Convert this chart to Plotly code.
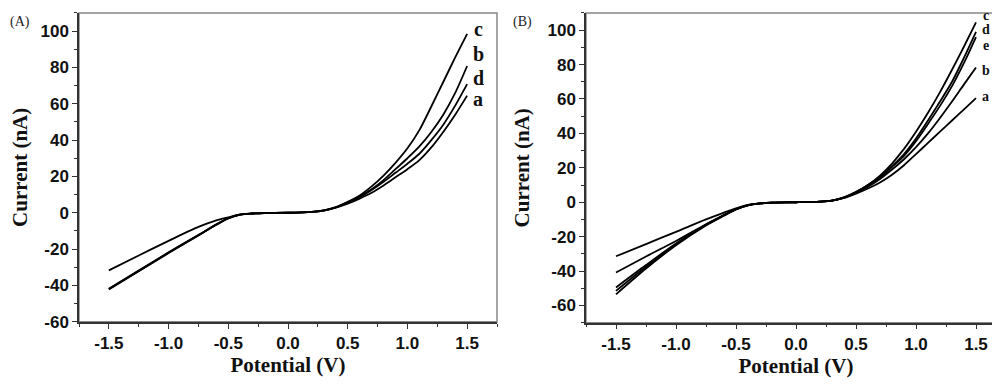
import plotly.graph_objects as go

# ---------------- data ----------------
potential = [-1.5, -1.25, -1.0, -0.75, -0.6, -0.5, -0.4, -0.3, -0.2, 0.0, 0.2, 0.3,
             0.4, 0.5, 0.6, 0.7, 0.8, 0.9, 1.0, 1.1, 1.2, 1.3, 1.4, 1.5]

# Panel (A)
A_a = [-31.7, -23.5, -15.5, -7.8, -4.2, -2.5, -0.9, -0.4, -0.15, 0.0, 0.5, 1.2,
       2.8, 5.0, 7.8, 11.0, 15.0, 19.5, 24.0, 29.0, 36.0, 44.5, 54.0, 64.5]
A_b = [-42.0, -32.0, -22.0, -12.3, -6.5, -3.0, -1.0, -0.4, -0.15, 0.0, 0.5, 1.3,
       3.0, 5.8, 9.0, 13.0, 18.0, 24.0, 30.0, 36.5, 44.5, 54.0, 66.0, 80.8]
A_c = [-42.3, -32.2, -22.2, -12.5, -6.6, -3.1, -1.0, -0.4, -0.15, 0.0, 0.5, 1.3,
       3.1, 6.0, 9.5, 14.5, 20.5, 27.5, 35.5, 45.5, 58.5, 72.0, 85.5, 98.5]
A_d = [-41.8, -31.8, -21.8, -12.2, -6.4, -3.0, -1.0, -0.4, -0.15, 0.0, 0.5, 1.2,
       2.9, 5.5, 8.5, 12.5, 17.0, 22.0, 27.0, 32.5, 40.0, 48.5, 59.0, 70.8]

# Panel (B)
B_a = [-31.4, -24.3, -17.2, -10.0, -6.0, -3.5, -1.5, -0.6, -0.2, 0.0, 0.4, 1.0,
       2.5, 5.0, 8.0, 11.5, 16.0, 21.5, 28.0, 34.5, 41.0, 47.5, 54.0, 60.5]
B_b = [-40.8, -31.5, -22.5, -12.8, -7.4, -4.0, -1.7, -0.7, -0.2, 0.0, 0.4, 1.0,
       2.6, 5.5, 9.0, 13.5, 19.0, 25.0, 32.0, 40.0, 49.0, 58.5, 68.5, 78.3]
B_c = [-53.5, -38.5, -25.0, -13.5, -7.8, -4.2, -1.8, -0.7, -0.2, 0.0, 0.4, 1.0,
       2.8, 6.0, 10.0, 15.5, 22.5, 31.0, 41.0, 52.0, 64.0, 77.0, 90.5, 104.5]
B_d = [-51.5, -37.5, -24.5, -13.2, -7.6, -4.1, -1.8, -0.7, -0.2, 0.0, 0.4, 1.0,
       2.8, 5.8, 10.0, 15.0, 21.0, 28.0, 37.0, 47.5, 58.5, 70.0, 84.0, 99.0]
B_e = [-49.5, -36.5, -24.0, -13.0, -7.5, -4.0, -1.7, -0.7, -0.2, 0.0, 0.4, 1.0,
       2.7, 5.7, 10.0, 14.5, 20.5, 27.0, 35.5, 45.5, 56.0, 67.5, 81.0, 96.0]

series_A = {"a": A_a, "b": A_b, "c": A_c, "d": A_d}
series_B = {"a": B_a, "b": B_b, "c": B_c, "d": B_d, "e": B_e}

x_ticks = [-1.5, -1.0, -0.5, 0.0, 0.5, 1.0, 1.5]
x_ticktext = ["-1.5", "-1.0", "-0.5", "0.0", "0.5", "1.0", "1.5"]
y_ticks = [-60, -40, -20, 0, 20, 40, 60, 80, 100]
y_ticktext = ["-60", "-40", "-20", "0", "20", "40", "60", "80", "100"]

# ---------------- figure ----------------
fig = go.Figure()

for name, vals in series_A.items():
    fig.add_trace(go.Scatter(x=potential, y=vals, mode="lines", name=name,
                             line=dict(color="black", width=1.8, shape="spline", smoothing=0.8),
                             xaxis="x", yaxis="y", showlegend=False))
for name, vals in series_B.items():
    fig.add_trace(go.Scatter(x=potential, y=vals, mode="lines", name=name,
                             line=dict(color="black", width=1.8, shape="spline", smoothing=0.8),
                             xaxis="x2", yaxis="y2", showlegend=False))

tick_font = dict(family="Liberation Sans, Arial, sans-serif", size=17, color="#111", weight="bold")
title_font = dict(family="Liberation Serif, Times New Roman, serif", size=21, color="#111", weight="bold")

def xaxis(domain, anchor):
    return dict(domain=domain, anchor=anchor, range=[-1.75, 1.75],
                tickvals=x_ticks, ticktext=x_ticktext, ticks="outside", ticklen=5,
                tickwidth=1.2, tickcolor="#333",
                minor=dict(dtick=0.25, tick0=-1.5, ticks="outside", ticklen=3, tickcolor="#333"),
                showline=True, linecolor="#333", linewidth=1.5, mirror=False,
                showgrid=False, zeroline=False, tickfont=tick_font,
                title=dict(text="Potential (V)", font=title_font, standoff=2))

def yaxis(domain, anchor, rng):
    return dict(domain=domain, anchor=anchor, range=rng,
                tickvals=y_ticks, ticktext=y_ticktext, ticks="outside", ticklen=5,
                tickwidth=1.2, tickcolor="#333",
                minor=dict(dtick=10, tick0=0, ticks="outside", ticklen=3, tickcolor="#333"),
                showline=True, linecolor="#333", linewidth=1.5, mirror=False,
                showgrid=False, zeroline=False, tickfont=tick_font,
                title=dict(text="Current (nA)", font=title_font, standoff=12))

fig.update_layout(
    width=1000, height=391,
    margin=dict(l=0, r=0, t=0, b=0),
    paper_bgcolor="white", plot_bgcolor="white",
    xaxis=xaxis([0.071, 0.489], "y"),
    yaxis=yaxis([0.1765, 0.987], "x", [-60, 110]),
    xaxis2=xaxis([0.578, 0.998], "y2"),
    yaxis2=yaxis([0.174, 0.987], "x2", [-70, 110]),
)

# frame (top/right lighter)
for xr, yr in [("x domain", "y domain"), ("x2 domain", "y2 domain")]:
    fig.add_shape(type="rect", xref=xr, yref=yr, x0=0, x1=1, y0=0, y1=1,
                  line=dict(color="#888", width=1.5), layer="below")

label_font_A = dict(family="Liberation Serif, Times New Roman, serif", size=20, color="#111", weight="bold")
label_font_B = dict(family="Liberation Serif, Times New Roman, serif", size=14, color="#111", weight="bold")

for name, ypos in zip(["c", "b", "d", "a"], [101, 87.6, 74.2, 62.9]):
    fig.add_annotation(x=1.593, y=ypos, xref="x", yref="y", text=name, showarrow=False,
                       font=label_font_A, height=20, valign="middle")
for name, ypos in zip(["c", "d", "e", "b", "a"], [109.0, 100.5, 91.5, 77.0, 61.5]):
    fig.add_annotation(x=1.58, y=ypos, xref="x2", yref="y2", text=name, showarrow=False,
                       font=label_font_B, height=12, valign="middle")

panel_font = dict(family="Liberation Serif, Times New Roman, serif", size=14, color="#222")
fig.add_annotation(x=0.0, y=0.99, xref="paper", yref="paper", text="(A)", showarrow=False,
                   xanchor="left", yanchor="top", font=panel_font)
fig.add_annotation(x=0.503, y=0.99, xref="paper", yref="paper", text="(B)", showarrow=False,
                   xanchor="left", yanchor="top", font=panel_font)

fig.write_html("out.html")
